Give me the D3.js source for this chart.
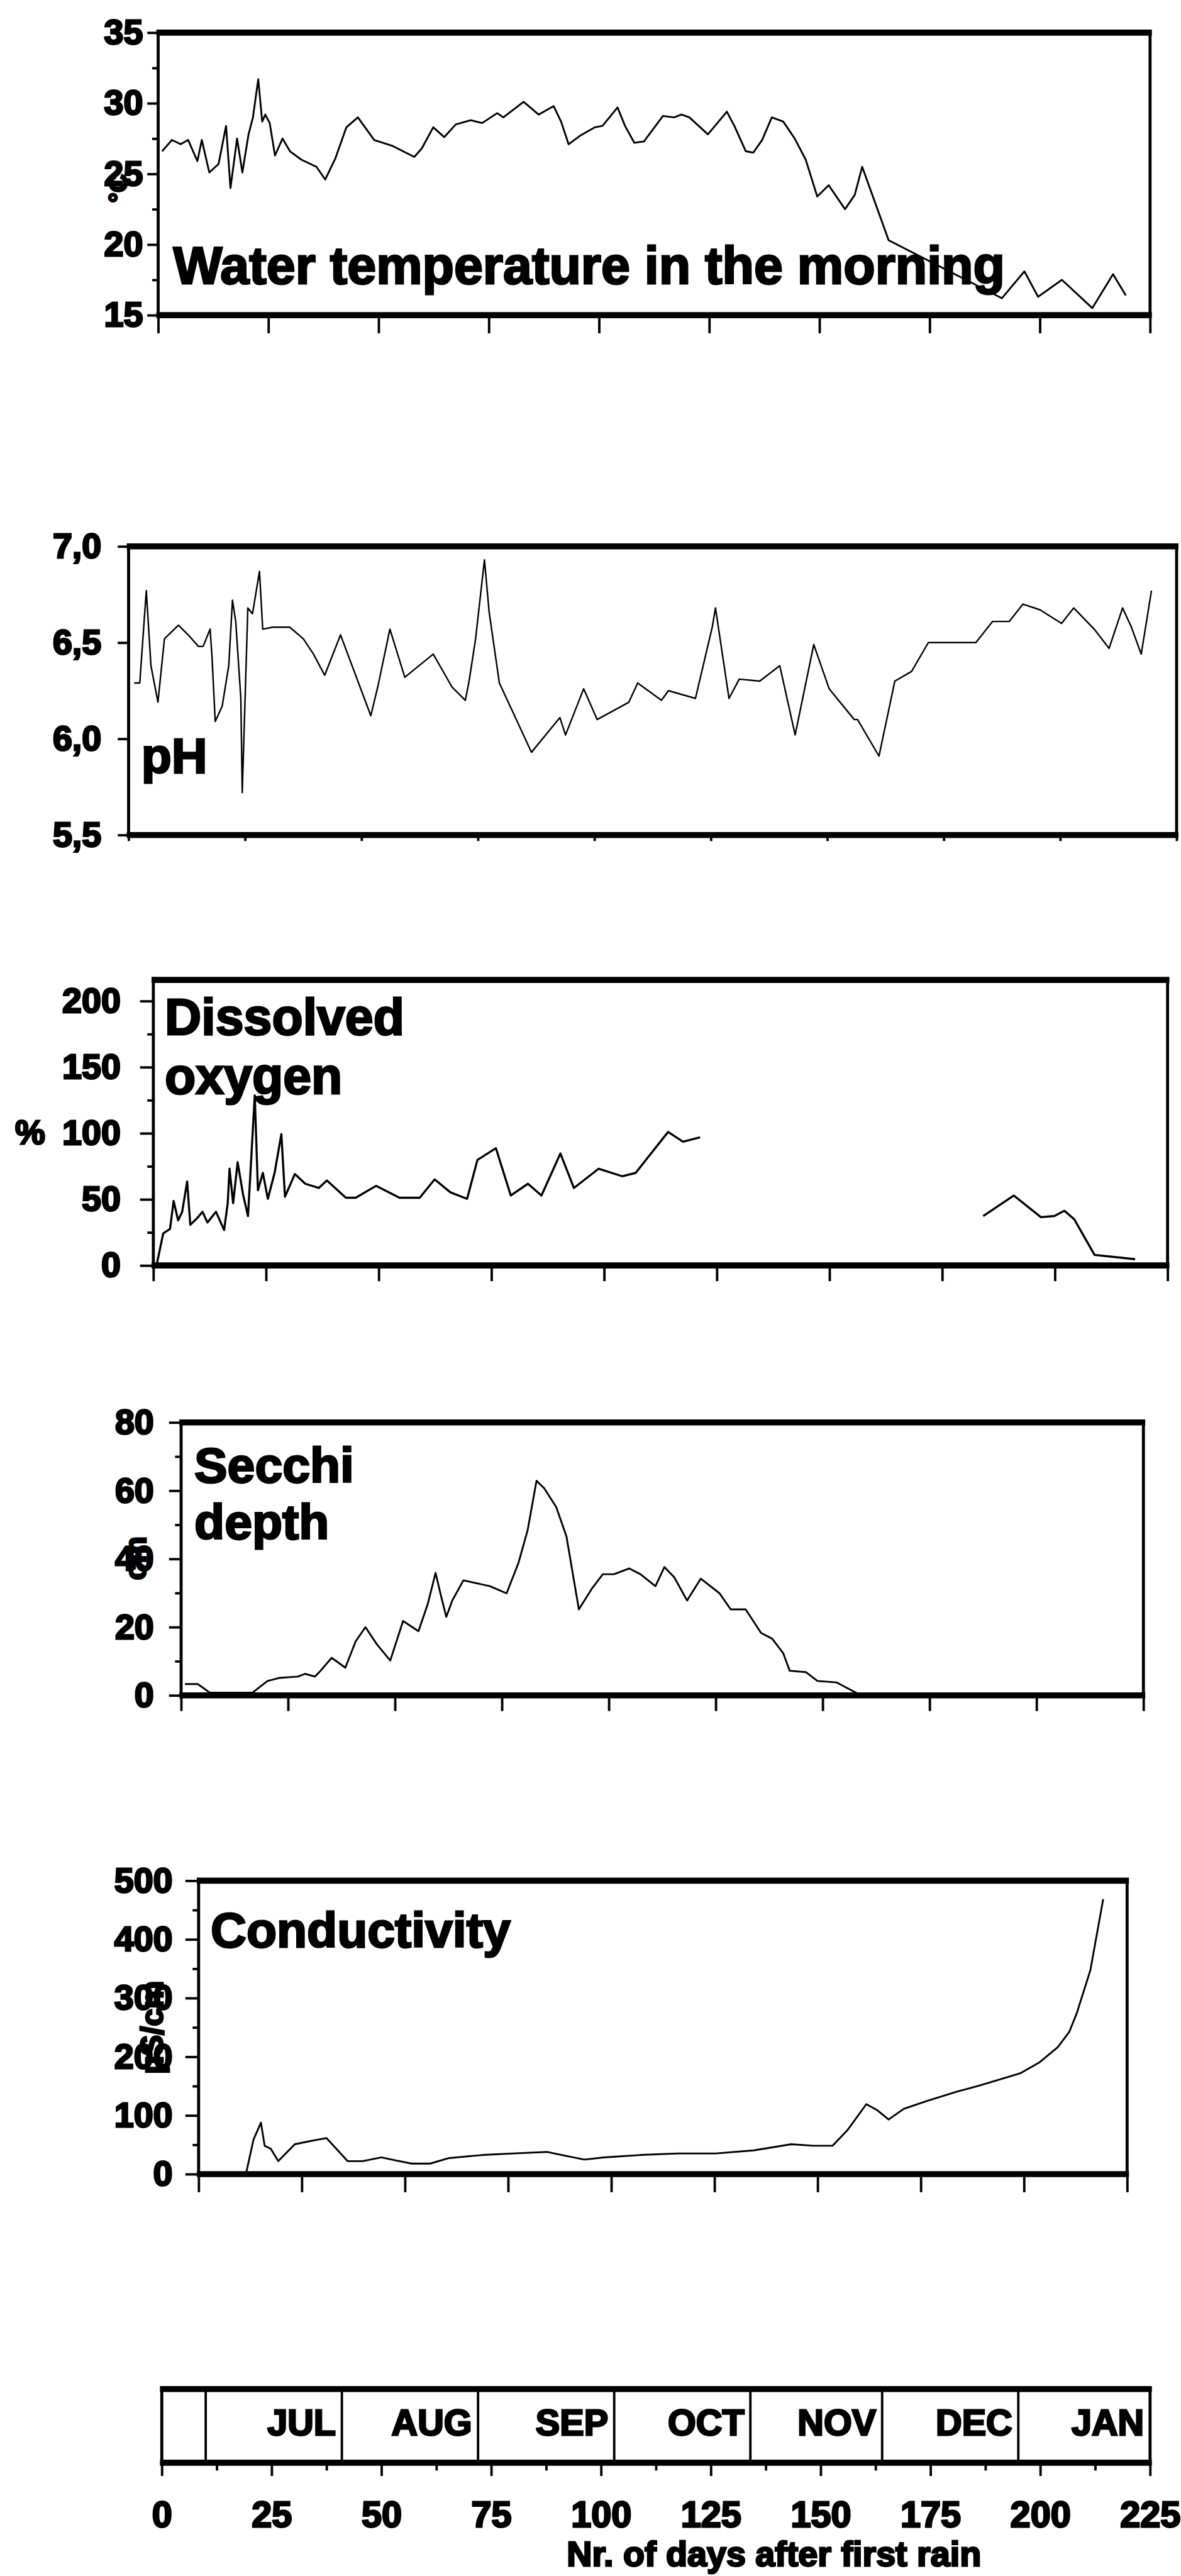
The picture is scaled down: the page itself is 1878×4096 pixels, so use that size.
<!DOCTYPE html>
<html>
<head>
<meta charset="utf-8">
<script src="https://cdnjs.cloudflare.com/ajax/libs/d3/7.8.5/d3.min.js"></script>
<style>
  body { margin: 0; background: #fff; }
  svg text {
    font-family: "Liberation Sans", Arial, sans-serif;
    font-weight: bold;
    fill: #000;
    stroke: #000;
    stroke-width: 3px;
    paint-order: stroke;
  }
</style>
</head>
<body>
<script>
// x axis, shared by all panels
var dayTicks = [0, 25, 50, 75, 100, 125, 150, 175, 200, 225];
var dayMinorTicks = [12.5, 37.5, 62.5, 87.5, 112.5, 137.5, 162.5, 187.5, 212.5];
var monthNames = ["JUL", "AUG", "SEP", "OCT", "NOV", "DEC", "JAN"];
var monthStartDays = [10, 41, 72, 103, 134, 164, 195];

// water temperature in the morning (C)
var tempTicks = [15, 20, 25, 30, 35];
var tempMinorTicks = [17.5, 22.5, 27.5, 32.5];
var tempDays = [0.9,3.1,5.1,6.8,8.9,9.9,11.6,13.7,15.4,16.4,17.9,19.1,20.5,21.5,22.7,23.6,24.3,25.3,26.5,28.2,
  29.9,32.5,35.9,37.9,40.2,42.7,45.3,49.0,53.0,58.1,59.8,62.4,64.9,67.5,70.9,73.5,76.9,78.3,82.9,86.3,
  89.7,91.4,93.1,95.7,99.1,100.8,104.2,105.9,108.0,110.2,114.5,117.0,118.7,120.5,124.7,129.0,130.7,133.3,135.0,137.0,
  139.2,141.8,144.4,146.9,149.5,152.1,155.8,158.0,159.7,165.7,191.4,196.5,199.6,205.0,211.9,216.6,219.5];
var tempValues = [26.6,27.4,27.1,27.4,25.9,27.4,25.1,25.7,28.4,24.0,27.5,25.1,27.8,29.0,31.7,28.7,29.2,28.6,26.3,27.5,
  26.6,26.0,25.5,24.6,26.1,28.3,29.0,27.4,27.0,26.2,26.8,28.3,27.6,28.5,28.8,28.6,29.3,29.0,30.1,29.2,
  29.8,28.7,27.1,27.7,28.3,28.4,29.7,28.4,27.2,27.3,29.1,29.0,29.2,29.0,27.8,29.4,28.4,26.6,26.5,27.4,
  29.0,28.7,27.5,26.0,23.4,24.2,22.5,23.5,25.5,20.3,16.2,18.1,16.3,17.5,15.5,17.9,16.4];

// pH
var phTicks = [5.5, 6.0, 6.5, 7.0];
var phDays = [1.2,2.4,3.8,4.8,6.3,7.7,10.7,12.8,15.0,16.0,17.5,17.9,18.6,20.1,21.5,22.3,23.0,24.1,24.4,25.6,
  26.6,28.1,28.8,31.0,34.6,37.5,39.7,42.1,45.5,52.0,53.5,56.1,59.3,65.4,68.0,69.4,72.3,73.1,74.5,76.4,
  77.4,79.6,86.5,92.6,93.8,97.7,100.6,107.4,109.3,114.4,115.9,121.7,125.3,126.0,128.9,131.1,135.5,139.8,143.1,147.1,
  150.4,155.8,156.5,161.1,164.5,168.1,171.7,181.9,185.5,189.1,192.0,195.7,200.3,202.9,207.3,210.5,213.4,215.3,217.4,219.6];
var phValues = [6.29,6.29,6.77,6.38,6.19,6.52,6.59,6.54,6.48,6.48,6.57,6.43,6.09,6.17,6.38,6.72,6.61,6.21,5.72,6.68,
  6.65,6.87,6.57,6.58,6.58,6.52,6.44,6.33,6.54,6.12,6.27,6.57,6.32,6.44,6.33,6.27,6.20,6.30,6.52,6.93,
  6.66,6.29,5.93,6.11,6.02,6.26,6.10,6.19,6.29,6.20,6.25,6.21,6.58,6.68,6.21,6.31,6.30,6.38,6.02,6.49,
  6.26,6.10,6.10,5.91,6.30,6.35,6.50,6.50,6.61,6.61,6.70,6.67,6.60,6.68,6.57,6.47,6.68,6.58,6.44,6.77];

// dissolved oxygen (%), null = no measurements
var doTicks = [0, 50, 100, 150, 200];
var doMinorTicks = [25, 75, 125, 175];
var doDays = [0.7,2.2,3.7,4.5,5.5,6.4,7.5,8.2,9.7,10.9,12.0,13.9,15.7,16.5,16.9,17.7,18.7,19.9,21.0,22.5,
  23.2,24.3,25.4,26.9,28.4,29.2,31.4,33.7,36.7,38.5,42.7,44.9,49.4,54.6,59.1,62.4,65.9,69.6,71.9,76.0,
  79.3,83.1,86.1,90.3,93.3,98.8,104.0,107.0,110.0,114.2,117.5,121.3,150,
  184.1,190.9,196.9,199.9,202.1,204.3,208.8,213.3,217.8];
var doValues = [0,24.3,27.6,48.8,34.1,40.6,63.5,30.8,35.7,40.6,32.5,40.6,26.8,47.1,73.2,47.1,78.1,53.7,37.4,128.7,
  56.9,70.0,50.4,70.0,99.3,52.0,69.2,61.8,58.6,64.3,51.2,51.2,60.2,51.2,51.2,65.1,55.3,50.4,79.8,88.7,
  52.9,61.8,52.9,84.7,58.6,73.2,67.5,70.0,83.0,101.0,93.6,96.9,null,
  37.4,52.9,36.5,37.4,41.4,34.9,8.0,6.4,4.7];

// Secchi depth (cm)
var secchiTicks = [0, 20, 40, 60, 80];
var secchiMinorTicks = [10, 30, 50, 70];
var secchiDays = [0.9,3.9,6.7,16.7,20.2,22.9,27.3,29.0,31.3,32.6,35.2,38.4,40.8,43.1,45.8,48.9,51.9,55.5,57.7,59.5,
  60.7,62.0,63.4,66.0,72.2,76.1,78.9,81.0,83.1,84.9,87.7,90.1,93.0,96.0,98.6,101.2,104.8,107.4,110.9,113.0,
  115.3,118.3,121.5,125.9,128.5,132.0,135.6,138.2,140.8,142.3,146.1,148.8,153.2,158.5,221.8];
var secchiValues = [3.3,3.3,0.8,0.8,4.2,5.1,5.5,6.3,5.5,7.2,11.0,8.1,15.8,20.0,14.9,10.2,21.8,18.8,26.9,35.9,
  29.5,23.0,27.8,33.7,32.0,29.9,38.9,48.3,62.9,60.7,55.2,46.6,25.2,31.2,35.5,35.5,37.2,35.5,32.0,37.6,
  34.6,27.8,34.2,29.9,25.2,25.2,18.3,16.6,12.3,7.2,6.8,4.2,3.8,0.3,0.3];

// conductivity (uS/cm)
var condTicks = [0, 100, 200, 300, 400, 500];
var condMinorTicks = [50, 150, 250, 350, 450];
var condDays = [11.5,13.3,15.1,16.0,17.5,19.3,23.3,27.0,31.0,36.1,39.7,44.3,47.9,51.6,56.1,60.7,68.9,76.2,84.4,88.0,
  93.5,98.1,107.1,116.2,125.3,134.5,143.6,149.0,153.6,157.2,161.8,164.5,167.2,170.9,176.4,183.6,189.1,199.1,203.7,208.2,
  211.0,212.8,216.1,219.2];
var condValues = [1,58.8,87.7,48.3,43.1,22.1,50.9,56.2,61.4,22.1,22.1,28.4,23.1,17.9,17.9,27.3,32.6,35.2,37.8,32.6,
  24.7,28.4,32.6,35.2,35.2,40.4,50.9,48.3,48.3,74.6,119.2,108.7,93.0,111.3,124.5,140.2,150.7,171.7,190.1,216.4,
  242.6,274.2,347.7,468.5];

var scale = 0.96;
var svg = d3.select("body").append("svg")
    .attr("width", 1878)
    .attr("height", 4096);
var root = svg.append("g").attr("transform", "scale(" + scale + ")");

function commaFmt(d){ return d3.format(".1f")(d).replace(".", ","); }

var panels = [
  {left: 262, right: 1905, top: 54, bottom: 522, domain: [15, 35], ticks: tempTicks, minor: tempMinorTicks,
   fmt: d3.format("d"), tick: 18, pad: 7, days: tempDays, values: tempValues, lw: 3,
   title: ["Water temperature in the morning"], tx: 287, ty: [470], tsize: 86, xtick: 30},
  {left: 213, right: 1949, top: 905, bottom: 1383, domain: [5.5, 7.0], ticks: phTicks, minor: [],
   fmt: commaFmt, tick: 18, pad: 27, days: phDays, values: phValues, lw: 2.5,
   title: ["pH"], tx: 234, ty: [1280], tsize: 82, xtick: 10},
  {left: 254, right: 1934, top: 1623, bottom: 2096, domain: [0, 216], ticks: doTicks, minor: doMinorTicks,
   fmt: d3.format("d"), tick: 22, pad: 32, days: doDays, values: doValues, lw: 3.5,
   title: ["Dissolved", "oxygen"], tx: 273, ty: [1714, 1811], tsize: 84, xtick: 26},
  {left: 300, right: 1894, top: 2356, bottom: 2808, domain: [0, 80], ticks: secchiTicks, minor: secchiMinorTicks,
   fmt: d3.format("d"), tick: 20, pad: 25, days: secchiDays, values: secchiValues, lw: 3,
   title: ["Secchi", "depth"], tx: 322, ty: [2455, 2549], tsize: 82, xtick: 26},
  {left: 329, right: 1867, top: 3115, bottom: 3601, domain: [0, 500], ticks: condTicks, minor: condMinorTicks,
   fmt: d3.format("d"), tick: 22, pad: 21, days: condDays, values: condValues, lw: 3,
   title: ["Conductivity"], tx: 349, ty: [3225], tsize: 82, xtick: 30}
];

function frame(g, l, r, t, b){
  // thick horizontal borders, thinner vertical ones, like the scan
  g.append("line").attr("x1", l - 3).attr("x2", r + 3).attr("y1", t).attr("y2", t)
    .attr("stroke", "#000").attr("stroke-width", 10);
  g.append("line").attr("x1", l - 3).attr("x2", r + 3).attr("y1", b).attr("y2", b)
    .attr("stroke", "#000").attr("stroke-width", 10);
  g.append("line").attr("x1", l).attr("x2", l).attr("y1", t).attr("y2", b)
    .attr("stroke", "#000").attr("stroke-width", 5);
  g.append("line").attr("x1", r).attr("x2", r).attr("y1", t).attr("y2", b)
    .attr("stroke", "#000").attr("stroke-width", 5);
}

panels.forEach(function(p){
  var g = root.append("g");
  var x = d3.scaleLinear().domain([0, 225]).range([p.left, p.right]);
  var y = d3.scaleLinear().domain(p.domain).range([p.bottom, p.top]);

  // minor y ticks
  var minorAxis = g.append("g").attr("transform", "translate(" + p.left + ",0)")
    .call(d3.axisLeft(y).tickValues(p.minor).tickSize(10).tickFormat(""));
  minorAxis.select(".domain").remove();
  minorAxis.selectAll("line").attr("stroke-width", 4);

  // major y ticks with labels
  var yAxis = g.append("g").attr("transform", "translate(" + p.left + ",0)")
    .call(d3.axisLeft(y).tickValues(p.ticks).tickSize(p.tick).tickPadding(p.pad).tickFormat(p.fmt));
  yAxis.select(".domain").remove();
  yAxis.selectAll("line").attr("stroke-width", 4);
  yAxis.attr("font-size", 58);

  // day ticks under the panel
  var xAxis = g.append("g").attr("transform", "translate(0," + p.bottom + ")")
    .call(d3.axisBottom(x).tickValues(dayTicks).tickSize(p.xtick).tickFormat(""));
  xAxis.select(".domain").remove();
  xAxis.selectAll("line").attr("stroke-width", 4);

  var pts = p.days.map(function(d, i){ return [d, p.values[i]]; });
  var line = d3.line()
    .defined(function(d){ return d[1] != null; })
    .x(function(d){ return x(d[0]); })
    .y(function(d){ return y(d[1]); });
  g.append("path").datum(pts)
    .attr("d", line)
    .attr("fill", "none")
    .attr("stroke", "#000")
    .attr("stroke-width", p.lw)
    .attr("stroke-linejoin", "round");

  frame(g, p.left, p.right, p.top, p.bottom);

  p.title.forEach(function(t, i){
    g.append("text").attr("x", p.tx).attr("y", p.ty[i])
      .attr("font-size", p.tsize).text(t);
  });
});

// axis unit labels (they sit on top of the tick labels in the original)
root.append("text").attr("transform", "translate(196,312) rotate(-90)")
  .attr("text-anchor", "middle").attr("dy", "0.35em").attr("font-size", 42).text("°C");
root.append("text").attr("x", 50).attr("y", 1875).attr("dy", "0.35em")
  .attr("text-anchor", "middle").attr("font-size", 56).text("%");
root.append("text").attr("transform", "translate(224,2581) rotate(-90)")
  .attr("text-anchor", "middle").attr("dy", "0.35em").attr("font-size", 50).text("cm");
root.append("text").attr("transform", "translate(252,3358) rotate(-90)")
  .attr("text-anchor", "middle").attr("dy", "0.35em").attr("font-size", 52).text("µS/cm");

// month bar with the day axis
var mb = {left: 268, right: 1905, top: 3957, bottom: 4079};
var xm = d3.scaleLinear().domain([0, 225]).range([mb.left, mb.right]);
var gm = root.append("g");

gm.selectAll("line.month").data(monthStartDays).enter().append("line")
  .attr("class", "month")
  .attr("x1", function(d){ return xm(d); })
  .attr("x2", function(d){ return xm(d); })
  .attr("y1", mb.top).attr("y2", mb.bottom)
  .attr("stroke", "#000").attr("stroke-width", 4);

gm.selectAll("text.month").data(monthNames).enter().append("text")
  .attr("class", "month")
  .attr("x", function(d, i){
    var end = i + 1 < monthStartDays.length ? monthStartDays[i + 1] : 225;
    return xm(end) - 10;
  })
  .attr("y", 4033)
  .attr("text-anchor", "end")
  .attr("font-size", 60)
  .text(function(d){ return d; });

frame(gm, mb.left, mb.right, mb.top, mb.bottom);

var mMinor = gm.append("g").attr("transform", "translate(0," + mb.bottom + ")")
  .call(d3.axisBottom(xm).tickValues(dayMinorTicks).tickSize(13).tickFormat(""));
mMinor.select(".domain").remove();
mMinor.selectAll("line").attr("stroke-width", 4);

var mAxis = gm.append("g").attr("transform", "translate(0," + mb.bottom + ")")
  .call(d3.axisBottom(xm).tickValues(dayTicks).tickSize(22).tickPadding(42).tickFormat(d3.format("d")));
mAxis.select(".domain").remove();
mAxis.selectAll("line").attr("stroke-width", 4);
mAxis.attr("font-size", 60);

gm.append("text").attr("x", 1282).attr("y", 4250)
  .attr("text-anchor", "middle").attr("font-size", 58)
  .text("Nr. of days after first rain");
</script>
</body>
</html>
